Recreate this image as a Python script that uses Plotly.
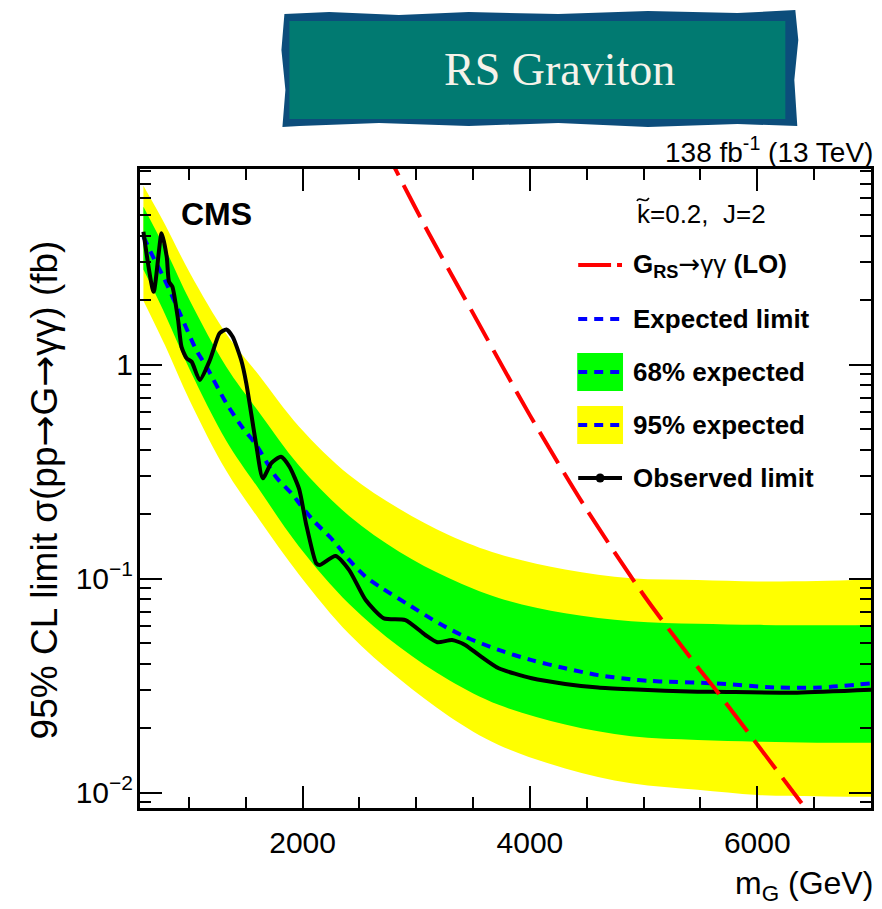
import plotly.graph_objects as go

# ---------------- data ----------------
# observed 95% CL upper limit (fb)
mass_obs = [600, 690, 760, 805, 825, 855, 905, 935, 980, 1025, 1095, 1185, 1270, 1330,
            1385, 1460, 1505, 1590, 1650, 1725, 1810, 1885, 1970, 2030, 2120, 2150,
            2290, 2410, 2555, 2715, 2905, 3080, 3185, 3315, 3430, 3550, 3725, 4015,
            4310, 4600, 4890, 5185, 5475, 5620, 6350, 7000]
obs_limit = [4.18, 2.19, 4.11, 3.19, 2.44, 2.31, 1.62, 1.21, 1.07, 1.03, 0.847, 1.05, 1.40, 1.46,
             1.35, 1.05, 0.818, 0.429, 0.294, 0.346, 0.371, 0.333, 0.262, 0.181, 0.118, 0.1157,
             0.1276, 0.1096, 0.0794, 0.0652, 0.0640, 0.0545, 0.0504, 0.0516, 0.0490, 0.0440, 0.0381, 0.0342,
             0.0322, 0.0310, 0.0304, 0.0299, 0.0296, 0.0296, 0.0293, 0.0302]

# median expected limit (fb)
mass_exp = [600, 685, 775, 920, 1065, 1155, 1330, 1475, 1590, 1765, 1915, 1970, 2090, 2265,
            2410, 2555, 2700, 2935, 3200, 3430, 3725, 4015, 4310, 4600, 4890, 5040, 5185,
            5620, 6150, 6555, 7000]
exp_limit = [3.96, 3.19, 2.57, 1.74, 1.17, 0.977, 0.659, 0.505, 0.423, 0.299, 0.246, 0.225, 0.188, 0.1515,
             0.1222, 0.102, 0.0901, 0.0753, 0.0618, 0.0535, 0.0464, 0.0416, 0.0381, 0.0354, 0.0338, 0.0333, 0.0330,
             0.0324, 0.0310, 0.0310, 0.0324]

# expected-limit uncertainty bands (fb)
mass_band = [600, 790, 1010, 1330, 1620, 1970, 2410, 2850, 3290, 3725, 4310, 4890, 5475, 6000, 6525, 7000]
band95_lo = [1.99, 1.23, 0.674, 0.318, 0.1884, 0.1043, 0.0551, 0.0340, 0.0227, 0.0167, 0.01297, 0.01105,
             0.0103, 0.00975, 0.00962, 0.00955]
band68_lo = [2.78, 1.72, 0.940, 0.440, 0.260, 0.141, 0.0761, 0.0480, 0.0335, 0.0257, 0.0208, 0.01832,
             0.0176, 0.0173, 0.0171, 0.0171]
band68_hi = [5.47, 3.49, 1.98, 0.974, 0.596, 0.337, 0.196, 0.1335, 0.1003, 0.0811, 0.0688, 0.0632,
             0.0615, 0.0608, 0.0605, 0.0607]
band95_hi = [6.85, 4.52, 2.67, 1.39, 0.887, 0.513, 0.305, 0.212, 0.1593, 0.1302, 0.1104, 0.1003,
             0.0985, 0.097, 0.0975, 0.099]

# RS graviton LO cross section x BR(gamma gamma), k~=0.2 (fb)
mass_theory = [2700, 2820, 3110, 3500, 4000, 4485, 5000, 5475, 5635, 6390]
xsec_theory = [10.8, 8.12, 4.11, 1.735, 0.579, 0.216, 0.0838, 0.0386, 0.0302, 0.00891]

# axis ticks
x_major = [2000, 4000, 6000]
x_minor = [1000, 1500, 2500, 3000, 3500, 4500, 5000, 5500, 6500, 7000]
y_major = [0.01, 0.1, 1]
y_major_text = ["10<sup>\u22122</sup>", "10<sup>\u22121</sup>", "1"]
y_minor = [m * 10.0 ** e for e in (-3, -2, -1, 0) for m in range(2, 10)]

# ---------------- layout geometry (pixels) ----------------
W, H = 882, 909
ML, MR, MT, MB = 140, 8, 169, 101
PW, PH = W - ML - MR, H - MT - MB


def fx(x):
    return (x - ML) / PW


def fy(y):
    return (H - MB - y) / PH


SANS = "Liberation Sans, Arial, Helvetica, sans-serif"
ARROW = "<span style='font-family:DejaVu Sans;font-weight:normal'>\u2192</span>"

YELLOW = "#ffff00"
GREEN = "#00ff00"
BLUE = "#0000ff"
RED = "#ff0000"

fig = go.Figure()

# 95% band
fig.add_trace(go.Scatter(x=mass_band, y=band95_lo, mode="lines", line=dict(width=0, shape="spline"),
                         hoverinfo="skip", showlegend=False))
fig.add_trace(go.Scatter(x=mass_band, y=band95_hi, mode="lines", line=dict(width=0, shape="spline"),
                         fill="tonexty", fillcolor=YELLOW, showlegend=False))
# 68% band
fig.add_trace(go.Scatter(x=mass_band, y=band68_lo, mode="lines", line=dict(width=0, shape="spline"),
                         hoverinfo="skip", showlegend=False))
fig.add_trace(go.Scatter(x=mass_band, y=band68_hi, mode="lines", line=dict(width=0, shape="spline"),
                         fill="tonexty", fillcolor=GREEN, showlegend=False))
# expected
fig.add_trace(go.Scatter(x=mass_exp, y=exp_limit, mode="lines",
                         line=dict(color=BLUE, width=4, dash="9px,7px", shape="spline", smoothing=0.8),
                         showlegend=False))
# observed
fig.add_trace(go.Scatter(x=mass_obs, y=obs_limit, mode="lines",
                         line=dict(color="black", width=4, shape="spline", smoothing=0.6),
                         showlegend=False))
# theory
fig.add_trace(go.Scatter(x=mass_theory, y=xsec_theory, mode="lines",
                         line=dict(color=RED, width=4, dash="36px,11px", shape="spline", smoothing=0.8),
                         showlegend=False))

shapes = []
annotations = []

# ---- banner ----
outer = [(285, 14), (330, 12), (400, 15), (470, 12), (560, 14), (650, 11), (740, 13), (798, 10),
         (801, 40), (797, 80), (800, 126), (740, 124), (650, 127), (560, 123), (470, 126),
         (380, 123), (300, 126), (283, 127), (286, 90), (282, 50)]
path = "M " + " L ".join(f"{fx(a):.5f},{fy(b):.5f}" for a, b in outer) + " Z"
shapes.append(dict(type="path", xref="paper", yref="paper", path=path,
                   fillcolor="#0c4d7b", line=dict(width=0), layer="above"))
shapes.append(dict(type="rect", xref="paper", yref="paper", x0=fx(290), x1=fx(788), y0=fy(21), y1=fy(119),
                   fillcolor="#017a71", line=dict(width=0), layer="above"))
annotations.append(dict(text="RS Graviton", xref="paper", yref="paper", x=fx(561), y=fy(70),
                        xanchor="center", yanchor="middle", showarrow=False,
                        font=dict(family="Liberation Serif, DejaVu Serif, serif", size=46, color="#f6f3ea")))

# ---- texts around the frame ----
annotations.append(dict(text="138 fb<sup>-1</sup> (13 TeV)", xref="paper", yref="paper",
                        x=fx(878), y=fy(150), xanchor="right", yanchor="middle", showarrow=False,
                        font=dict(family=SANS, size=28, color="black")))
annotations.append(dict(text="<b>CMS</b>", xref="paper", yref="paper", x=fx(179), y=fy(214),
                        xanchor="left", yanchor="middle", showarrow=False,
                        font=dict(family=SANS, size=32, color="black")))
annotations.append(dict(text=f"95% CL limit \u03c3(pp{ARROW}G{ARROW}\u03b3\u03b3) (fb)", xref="paper", yref="paper",
                        x=fx(45), y=fy(490), xanchor="center", yanchor="middle", textangle=-90,
                        showarrow=False, font=dict(family=SANS, size=37, color="black")))
annotations.append(dict(text="m<sub>G</sub> (GeV)", xref="paper", yref="paper", x=fx(878), y=fy(885),
                        xanchor="right", yanchor="middle", showarrow=False,
                        font=dict(family=SANS, size=32, color="black")))

# ---- legend ----
annotations.append(dict(text="k=0.2,\u00a0\u00a0J=2", xref="paper", yref="paper", x=fx(637), y=fy(214),
                        xanchor="left", yanchor="middle", showarrow=False,
                        font=dict(family=SANS, size=26, color="black")))
# tilde accent over the k, drawn as a small wave
tilde = (f"M {fx(639):.5f},{fy(201):.5f} C {fx(642):.5f},{fy(195):.5f} "
         f"{fx(647):.5f},{fy(205):.5f} {fx(651):.5f},{fy(198):.5f}")
shapes.append(dict(type="path", xref="paper", yref="paper", path=tilde,
                   line=dict(color="black", width=1.6), layer="above"))

rows = [265, 319, 372, 425, 478]
labels = [f"<b>G</b><sub><b>RS</b></sub>{ARROW}\u03b3\u03b3 <b>(LO)</b>", "<b>Expected limit</b>",
          "<b>68% expected</b>", "<b>95% expected</b>", "<b>Observed limit</b>"]
for yy, lab in zip(rows, labels):
    annotations.append(dict(text=lab, xref="paper", yref="paper", x=fx(633), y=fy(yy),
                            xanchor="left", yanchor="middle", showarrow=False,
                            font=dict(family=SANS, size=26, color="black")))


def hline(x0, x1, y, color, width, dash="solid"):
    shapes.append(dict(type="line", xref="paper", yref="paper", x0=fx(x0), x1=fx(x1), y0=fy(y), y1=fy(y),
                       line=dict(color=color, width=width, dash=dash), layer="above"))


hline(580, 613, rows[0], RED, 4)
hline(619, 624, rows[0], RED, 4)
hline(580, 624, rows[1], BLUE, 4, "9px,7px")
shapes.append(dict(type="rect", xref="paper", yref="paper", x0=fx(579), x1=fx(625), y0=fy(353), y1=fy(391),
                   fillcolor=GREEN, line=dict(width=0), layer="above"))
hline(580, 624, rows[2], BLUE, 4, "9px,7px")
shapes.append(dict(type="rect", xref="paper", yref="paper", x0=fx(579), x1=fx(625), y0=fy(406), y1=fy(444),
                   fillcolor=YELLOW, line=dict(width=0), layer="above"))
hline(580, 624, rows[3], BLUE, 4, "9px,7px")
hline(580, 624, rows[4], "black", 4)
shapes.append(dict(type="circle", xref="paper", yref="paper", x0=fx(597.5), x1=fx(606.5),
                   y0=fy(473.5), y1=fy(482.5), fillcolor="black", line=dict(width=0), layer="above"))

fig.update_layout(
    width=W, height=H,
    margin=dict(l=ML, r=MR, t=MT, b=MB, pad=0),
    paper_bgcolor="white", plot_bgcolor="white",
    showlegend=False,
    shapes=shapes, annotations=annotations,
    xaxis=dict(range=[570, 7000], showgrid=False, zeroline=False,
               showline=True, linecolor="black", linewidth=3, mirror="ticks",
               ticks="inside", ticklen=22, tickwidth=2, tickcolor="black",
               tickmode="array", tickvals=x_major, ticktext=[str(v) for v in x_major],
               ticklabelstandoff=6,
               tickfont=dict(family=SANS, size=30, color="black"),
               minor=dict(tickmode="array", tickvals=x_minor, ticks="inside", ticklen=11,
                          tickwidth=2, tickcolor="black", showgrid=False)),
    yaxis=dict(type="log", range=[-2.072, 0.914], showgrid=False, zeroline=False,
               showline=True, linecolor="black", linewidth=3, mirror="ticks",
               ticks="inside", ticklen=22, tickwidth=2, tickcolor="black",
               tickmode="array", tickvals=y_major, ticktext=y_major_text,
               ticklabelstandoff=-2,
               tickfont=dict(family=SANS, size=30, color="black"),
               minor=dict(tickmode="array", tickvals=y_minor, ticks="inside", ticklen=11,
                          tickwidth=2, tickcolor="black", showgrid=False)),
)

fig.write_html("out.html")
